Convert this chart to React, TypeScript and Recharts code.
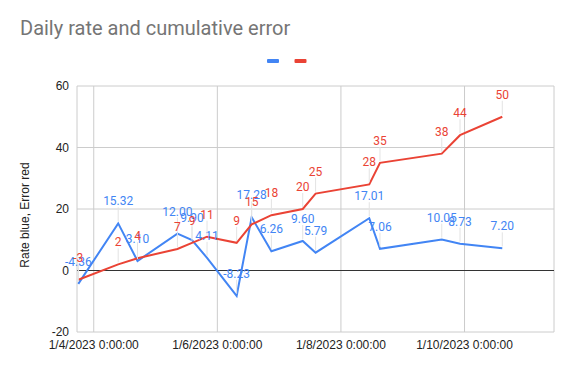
import { LineChart, Line, XAxis, YAxis, CartesianGrid, ReferenceLine, LabelList, Legend } from "recharts";

// sample times (UTC)
const times = [
  "2023-01-03T18:00", "2023-01-04T09:30", "2023-01-04T17:00", "2023-01-05T08:30",
  "2023-01-05T14:10", "2023-01-05T20:00", "2023-01-06T07:30", "2023-01-06T13:20",
  "2023-01-06T21:00", "2023-01-07T09:10", "2023-01-07T14:10", "2023-01-08T11:00",
  "2023-01-08T15:10", "2023-01-09T15:10", "2023-01-09T22:15", "2023-01-10T14:40",
];
const rate = [-4.36, 15.32, 3.1, 12.0, 9.9, 4.11, -8.23, 17.28, 6.26, 9.6, 5.79, 17.01, 7.06, 10.05, 8.73, 7.2];
const error = [-3, 2, 4, 7, 9, 11, 9, 15, 18, 20, 25, 28, 35, 38, 44, 50];

const xTicks = ["2023-01-04T00:00", "2023-01-06T00:00", "2023-01-08T00:00", "2023-01-10T00:00"];
const xRange = ["2023-01-03T17:30", "2023-01-11T10:45"];
const yTicks = [-20, 0, 20, 40, 60];

const BLUE = "#4285F4";
const RED = "#EA4335";
const seriesOrder = ["rate", "error"];

const ts = (s: string) => Date.parse(s + ":00Z");

const data = times.map((t, i) => ({ t: ts(t), rate: rate[i], error: error[i] }));

const fmtDate = (v: number) => {
  const d = new Date(v);
  return `${d.getUTCMonth() + 1}/${d.getUTCDate()}/${d.getUTCFullYear()} 0:00:00`;
};

function pointLabel(color: string, digits: number) {
  return (props: any) => {
    const { x, y, value } = props;
    if (value == null) return null;
    return (
      <g>
        <line x1={x} x2={x} y1={y - 16} y2={y - 2} stroke="#e3e3e3" strokeWidth={1} />
        <text x={x} y={y - 18} textAnchor="middle" fill={color} fontSize={12} fontFamily="Roboto, sans-serif">
          {Number(value).toFixed(digits)}
        </text>
      </g>
    );
  };
}

const legendContent = (props: any) => {
  const items = [...(props.payload || [])].sort(
    (a: any, b: any) => seriesOrder.indexOf(a.dataKey) - seriesOrder.indexOf(b.dataKey)
  );
  return (
    <svg width={45} height={8} style={{ display: "block" }}>
      {items.map((p: any, i: number) => (
        <rect key={i} x={i * 27.5} y={1} width={12} height={4} rx={1} fill={p.color} />
      ))}
    </svg>
  );
};

export default function App() {
  return (
    <div style={{ position: "absolute", left: 0, top: 0, width: 573, height: 371, background: "#fff" }}>
      <div
        style={{
          position: "absolute",
          left: 20,
          top: 16,
          fontFamily: "Roboto, sans-serif",
          fontSize: 20,
          color: "#757575",
          whiteSpace: "nowrap",
        }}
      >
        Daily rate and cumulative error
      </div>
      <LineChart width={573} height={371} data={data} margin={{ top: 86, right: 19, bottom: 0, left: 0 }}>
        <CartesianGrid stroke="#cccccc" />
        <XAxis
          dataKey="t"
          type="number"
          scale="time"
          domain={[ts(xRange[0]), ts(xRange[1])]}
          ticks={xTicks.map(ts)}
          tickFormatter={fmtDate}
          height={39}
          axisLine={false}
          tickLine={false}
          tick={{ fill: "#222", fontSize: 12, fontFamily: "'Liberation Sans', Arial, sans-serif" }}
        />
        <YAxis
          domain={[-20, 60]}
          ticks={yTicks}
          width={77}
          axisLine={false}
          tickLine={false}
          tick={{ fill: "#222", fontSize: 12, fontFamily: "'Liberation Sans', Arial, sans-serif" }}
          label={{
            content: () => (
              <text
                x={29}
                y={215}
                transform="rotate(-90 29 215)"
                textAnchor="middle"
                fill="#222"
                fontSize={12}
                fontFamily="'Liberation Sans', Arial, sans-serif"
              >
                Rate blue, Error red
              </text>
            ),
          }}
        />
        <ReferenceLine y={0} stroke="#333" strokeWidth={1} />
        <Legend
          layout="horizontal"
          verticalAlign="middle"
          align="center"
          wrapperStyle={{ top: 58, left: 267, width: 45, height: 8, lineHeight: 0 }}
          content={legendContent}
        />
        <Line type="linear" dataKey="rate" stroke={BLUE} strokeWidth={2} dot={false} isAnimationActive={false}>
          <LabelList dataKey="rate" content={pointLabel(BLUE, 2)} />
        </Line>
        <Line type="linear" dataKey="error" stroke={RED} strokeWidth={2} dot={false} isAnimationActive={false}>
          <LabelList dataKey="error" content={pointLabel(RED, 0)} />
        </Line>
      </LineChart>
    </div>
  );
}
